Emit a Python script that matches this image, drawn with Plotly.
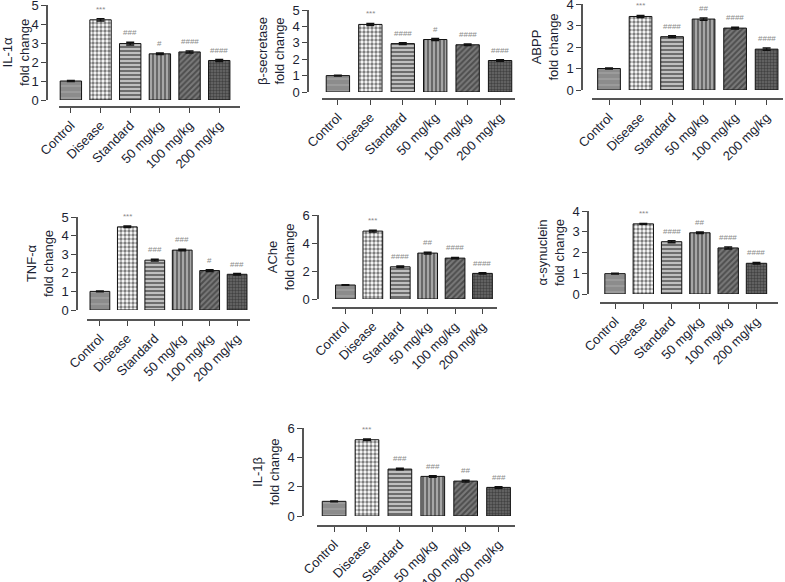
"""
Fold-change bar panels (GraphPad-style) rebuilt with plotly
"""
import plotly.graph_objects as go

groups = ['Control', 'Disease', 'Standard', '50 mg/kg', '100 mg/kg', '200 mg/kg']

# values
il1a = [1.0, 4.22, 2.97, 2.43, 2.53, 2.08]
il1a_err = [0.02, 0.06, 0.07, 0.04, 0.05, 0.05]
il1a_sig = ['', '***', '###', '#', '####', '####']

bsec = [1.0, 4.12, 2.95, 3.2, 2.88, 1.92]
bsec_err = [0.02, 0.06, 0.06, 0.06, 0.05, 0.05]
bsec_sig = ['', '***', '####', '#', '####', '####']

abpp = [1.0, 3.42, 2.48, 3.3, 2.88, 1.9]
abpp_err = [0.02, 0.05, 0.04, 0.05, 0.04, 0.05]
abpp_sig = ['', '***', '####', '##', '####', '####']

tnfa = [1.0, 4.47, 2.68, 3.22, 2.12, 1.92]
tnfa_err = [0.02, 0.04, 0.05, 0.04, 0.05, 0.04]
tnfa_sig = ['', '***', '###', '###', '#', '###']

ache = [1.0, 4.85, 2.3, 3.28, 2.92, 1.83]
ache_err = [0.02, 0.06, 0.05, 0.06, 0.05, 0.05]
ache_sig = ['', '***', '####', '##', '####', '####']

asyn = [0.98, 3.38, 2.52, 2.95, 2.22, 1.48]
asyn_err = [0.02, 0.02, 0.05, 0.04, 0.05, 0.04]
asyn_sig = ['', '***', '####', '##', '####', '####']

il1b = [1.0, 5.2, 3.2, 2.7, 2.38, 1.95]
il1b_err = [0.02, 0.05, 0.05, 0.05, 0.06, 0.05]
il1b_sig = ['', '***', '###', '###', '##', '###']

W, H = 785, 582
font = 'Arial, Liberation Sans, sans-serif'
txtcol = '#1c1f33'

# one pattern per group
patterns = [
    dict(shape='-', fgcolor='#b5b5b5', bgcolor='#8c8c8c', size=6, solidity=0.25),
    dict(shape='.', fgcolor='#000000', bgcolor='#ffffff', size=4, solidity=0.55),
    dict(shape='-', fgcolor='#111111', bgcolor='#c8c8c8', size=4, solidity=0.55),
    dict(shape='|', fgcolor='#000000', bgcolor='#d0d0d0', size=4, solidity=0.7),
    dict(shape='/', fgcolor='#222222', bgcolor='#7a7a7a', size=4, solidity=0.5),
    dict(shape='.', fgcolor='#1a1a1a', bgcolor='#6a6a6a', size=3, solidity=0.5),
]

# panel: (title, values, err, sig, ymax, dtick,
#         y-axis px x, top px, zero px, x-domain px, x-line px y, x range)
panels = [
    ('IL-1α', il1a, il1a_err, il1a_sig, 5, 1, 47, 5, 100, (59, 240), 107, (-0.4, 5.7)),
    ('β-secretase', bsec, bsec_err, bsec_sig, 5, 1, 308, 10, 92, (322, 515), 99, (-0.49, 5.46)),
    ('ABPP', abpp, abpp_err, abpp_sig, 4, 1, 582, 4, 90, (592, 783), 99, (-0.54, 5.52)),
    ('TNF-α', tnfa, tnfa_err, tnfa_sig, 5, 1, 77, 217, 310, (87, 250), 320, (-0.47, 5.47)),
    ('AChe', ache, ache_err, ache_sig, 6, 2, 318, 215, 299, (332, 497), 308, (-0.49, 5.53)),
    ('α-synuclein', asyn, asyn_err, asyn_sig, 4, 1, 588, 211, 294, (600, 778), 303, (-0.53, 5.76)),
    ('IL-1β', il1b, il1b_err, il1b_sig, 6, 2, 303, 428, 516, (317, 515), 526, (-0.52, 5.5)),
]

fig = go.Figure()
layout = {}
annotations = []

for i, p in enumerate(panels, start=1):
    name, vals, err, sig, ymax, dtick, yx, ytop, yzero, xdom, xline, xr = p
    xs = list(range(len(groups)))
    for j, g in enumerate(groups):
        fig.add_trace(go.Bar(
            x=[j], y=[vals[j]],
            width=0.72,
            xaxis='x{}'.format(i), yaxis='y{}'.format(i),
            marker=dict(color=patterns[j]['bgcolor'],
                        pattern=patterns[j],
                        line=dict(color='#111111', width=1)),
            error_y=dict(type='data', array=[err[j]], color='#111111',
                         thickness=1.5, width=4),
            showlegend=False,
        ))
        if sig[j]:
            annotations.append(dict(
                x=j, y=vals[j] + err[j], xref='x{}'.format(i), yref='y{}'.format(i),
                text=sig[j], showarrow=False, yanchor='bottom', yshift=3,
                font=dict(size=8, color='#8a8a8a', family=font)))

    layout['xaxis{}'.format(i)] = dict(
        domain=[xdom[0] / W, xdom[1] / W],
        anchor='free', position=1 - xline / H, automargin=False,
        range=list(xr), tickmode='array', tickvals=xs, ticktext=groups,
        tickangle=-45, ticks='outside', ticklen=5, tickcolor='#444444',
        showline=True, linecolor='#555555', linewidth=1.5,
        showgrid=False, zeroline=False, fixedrange=True,
        ticklabeloverflow='allow',
        tickfont=dict(size=13, color=txtcol, family=font))
    layout['yaxis{}'.format(i)] = dict(
        domain=[1 - yzero / H, 1 - ytop / H],
        anchor='free', position=yx / W, automargin=False,
        range=[0, ymax], dtick=dtick, ticks='outside', ticklen=5,
        tickcolor='#444444', showline=True, linecolor='#555555', linewidth=1.5,
        showgrid=False, zeroline=False, fixedrange=True,
        ticklabeloverflow='allow',
        tickfont=dict(size=13, color=txtcol, family=font),
        title=dict(text=name + '<br>fold change', standoff=4,
                   font=dict(size=13, color=txtcol, family=font)))

fig.update_layout(**layout)
fig.update_layout(
    width=W, height=H,
    margin=dict(l=0, r=0, t=0, b=0, autoexpand=False),
    paper_bgcolor='white', plot_bgcolor='white',
    barmode='overlay',
    annotations=annotations,
)

# drop the default 8px body margin so the figure sits at the page corner
fig.write_html('out.html', config={'displayModeBar': False},
               post_script="document.body.style.margin='0';")
